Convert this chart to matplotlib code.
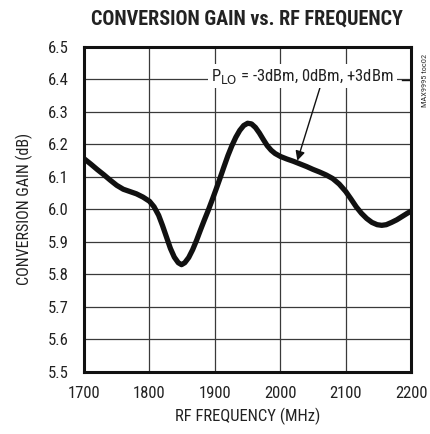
import matplotlib.pyplot as plt
from matplotlib import font_manager

# Conversion gain vs RF frequency
freq_mhz = [1700, 1710, 1720, 1730, 1740, 1750, 1760, 1770, 1780, 1790, 1800, 1807,
            1814, 1820, 1826, 1832, 1838, 1844, 1849, 1854, 1860, 1866, 1872, 1878,
            1884, 1890, 1896, 1902, 1908, 1914, 1920, 1926, 1932, 1938, 1944, 1950,
            1956, 1962, 1968, 1974, 1980, 1986, 1992, 2000, 2010, 2020, 2030, 2040,
            2050, 2060, 2070, 2080, 2090, 2100, 2108, 2116, 2124, 2132, 2140, 2148,
            2155, 2162, 2170, 2178, 2186, 2194, 2200]
gain_db = [6.156, 6.140, 6.123, 6.107, 6.090, 6.074, 6.062, 6.055, 6.048, 6.038, 6.025, 6.008,
           5.982, 5.950, 5.915, 5.880, 5.853, 5.836, 5.830, 5.836, 5.852, 5.876, 5.905, 5.937,
           5.968, 5.998, 6.030, 6.063, 6.097, 6.132, 6.166, 6.196, 6.222, 6.243, 6.258, 6.265,
           6.263, 6.252, 6.235, 6.215, 6.196, 6.182, 6.172, 6.163, 6.155, 6.148, 6.140, 6.132,
           6.123, 6.115, 6.106, 6.095, 6.078, 6.055, 6.032, 6.008, 5.988, 5.972, 5.960, 5.953,
           5.951, 5.953, 5.960, 5.968, 5.978, 5.988, 5.995]

x_ticks = [1700, 1800, 1900, 2000, 2100, 2200]
y_ticks = [5.5, 5.6, 5.7, 5.8, 5.9, 6.0, 6.1, 6.2, 6.3, 6.4, 6.5]

installed = {f.name for f in font_manager.fontManager.ttflist}


def pick(cands):
    for c in cands:
        if c in installed:
            return c
    return "DejaVu Sans"


narrow = pick(["Roboto Condensed", "PT Sans Narrow", "Liberation Sans Narrow", "Arimo"])
plt.rcParams["font.family"] = [narrow, "DejaVu Sans"]

fig = plt.figure(figsize=(4.31, 4.34), dpi=100)
ax = fig.add_axes([0.195, 0.143, 0.759, 0.749])

ax.plot(freq_mhz, gain_db, color="#111111", lw=3.8, solid_capstyle="round",
        solid_joinstyle="round", zorder=3)

ax.set_xlim(1700, 2200)
ax.set_ylim(5.5, 6.5)
ax.set_xticks(x_ticks)
ax.set_yticks(y_ticks)
ax.set_xticklabels([str(v) for v in x_ticks], fontsize=12)
ax.set_yticklabels([f"{v:.1f}" for v in y_ticks], fontsize=12)
ax.tick_params(axis="x", length=0, pad=10, colors="#222222")
ax.tick_params(axis="y", length=0, pad=11, colors="#222222")
ax.grid(True, color="#3a3a3a", lw=0.9)
for sp in ax.spines.values():
    sp.set_linewidth(2.2)
    sp.set_color("#111111")

ax.set_xlabel("RF FREQUENCY (MHz)", fontsize=12, labelpad=5, color="#222222")
ax.set_ylabel("CONVERSION GAIN (dB)", fontsize=11.5, labelpad=11, color="#222222")

fig.text(0.573, 0.957, "CONVERSION GAIN vs. RF FREQUENCY", ha="center", va="center",
         fontsize=14.5, fontweight=900, color="#222222")

# annotation with leader line and arrow
ax.annotate("", xy=(2026, 6.15), xytext=(2063, 6.39),
            arrowprops=dict(arrowstyle="-|>", color="#111111", lw=1.0,
                            mutation_scale=14, shrinkA=0, shrinkB=0))
ax.text(1894, 6.41, r"P$_{\rm LO}$ = -3dBm, 0dBm, +3dBm", fontsize=12,
        va="center", ha="left", color="#222222",
        bbox=dict(facecolor="white", edgecolor="none", pad=2.0), zorder=4)
ax.plot([2186, 2200], [6.398, 6.398], color="#111111", lw=1.0, zorder=4)

fig.text(0.985, 0.815, "MAX9995 toc02", rotation=90, ha="center", va="center",
         fontsize=6, color="#333333")

fig.savefig("out.png", dpi=100)
